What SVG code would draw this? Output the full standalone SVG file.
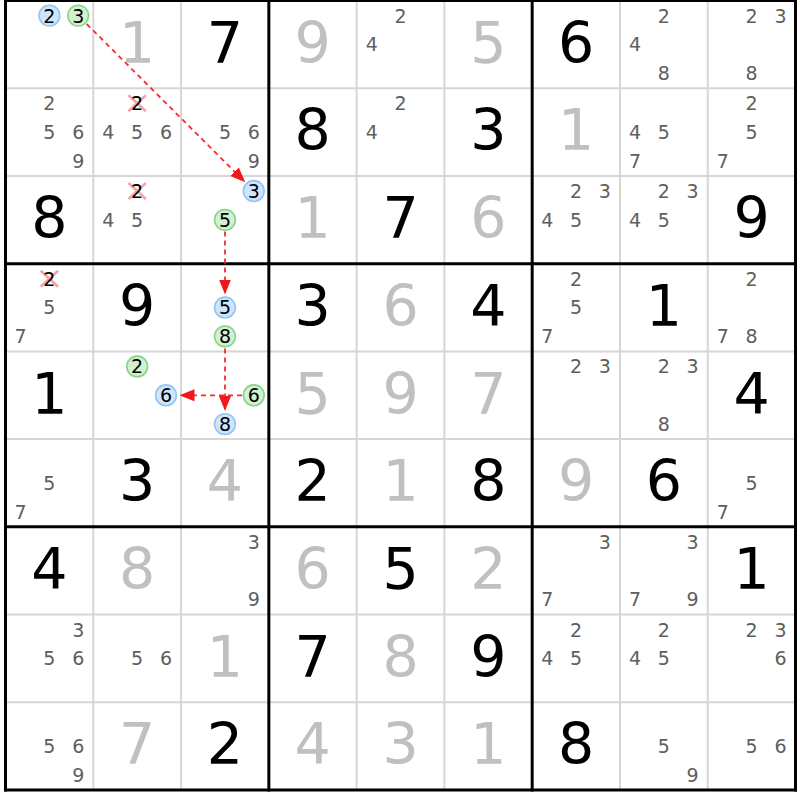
<svg xmlns="http://www.w3.org/2000/svg" width="800" height="800" viewBox="0 0 800 800">
<style>
text{font-family:"DejaVu Sans","Liberation Sans",sans-serif;text-anchor:middle}
.g{font-size:57px;fill:#000}
.s{font-size:57px;fill:#c0c0c0}
.c{font-size:19px;fill:#5e5e5e}
.k{font-size:19px;fill:#000}
.hb{fill:#cfe5fb;stroke:#92c5f2;stroke-width:1.6}
.hg{fill:#d3f0d3;stroke:#86d686;stroke-width:1.6}
.x{stroke:#f4a3ab;stroke-width:2.6}
.thin{stroke:#d6d6d6;stroke-width:2}
.thick{stroke:#000;stroke-width:3}
.arr{stroke:#f03030;stroke-width:1.8;stroke-dasharray:5,4;fill:none}
</style>
<defs>
<marker id="ah" markerUnits="userSpaceOnUse" markerWidth="15" markerHeight="12" refX="15" refY="6" orient="auto">
<path d="M0,0 L15,6 L0,12 z" fill="#f01818"/>
</marker>
</defs>
<rect x="0" y="0" width="800" height="800" fill="#fff"/>
<g id="grid">
<g class="thin">
<line x1="93.28" y1="0.5" x2="93.28" y2="790"/>
<line x1="181.06" y1="0.5" x2="181.06" y2="790"/>
<line x1="356.62" y1="0.5" x2="356.62" y2="790"/>
<line x1="444.4" y1="0.5" x2="444.4" y2="790"/>
<line x1="619.96" y1="0.5" x2="619.96" y2="790"/>
<line x1="707.74" y1="0.5" x2="707.74" y2="790"/>
<line x1="5.5" y1="88.22" x2="795.5" y2="88.22"/>
<line x1="5.5" y1="175.94" x2="795.5" y2="175.94"/>
<line x1="5.5" y1="351.38" x2="795.5" y2="351.38"/>
<line x1="5.5" y1="439.1" x2="795.5" y2="439.1"/>
<line x1="5.5" y1="614.54" x2="795.5" y2="614.54"/>
<line x1="5.5" y1="702.26" x2="795.5" y2="702.26"/>
</g>
<g class="thick">
<line x1="5.5" y1="-1" x2="5.5" y2="791.5"/>
<line x1="268.84" y1="-1" x2="268.84" y2="791.5"/>
<line x1="532.18" y1="-1" x2="532.18" y2="791.5"/>
<line x1="795.5" y1="-1" x2="795.5" y2="791.5"/>
<line x1="4" y1="0.5" x2="797" y2="0.5"/>
<line x1="4" y1="263.66" x2="797" y2="263.66"/>
<line x1="4" y1="526.82" x2="797" y2="526.82"/>
<line x1="4" y1="790" x2="797" y2="790"/>
</g>
</g>

<!-- Row 0 -->
<g id="r0c0" transform="translate(5.5,0.5)">
<circle class="hb" cx="43.9" cy="15.1" r="10.4"/><text class="k" x="43.9" y="22">2</text>
<circle class="hg" cx="72.7" cy="15.1" r="10.4"/><text class="k" x="72.7" y="22">3</text>
</g>
<g id="r0c1" transform="translate(93.28,0.5)"><text class="s" x="43.9" y="62.2">1</text></g>
<g id="r0c2" transform="translate(181.06,0.5)"><text class="g" x="43.9" y="62.2">7</text></g>
<g id="r0c3" transform="translate(268.84,0.5)"><text class="s" x="43.9" y="62.2">9</text></g>
<g id="r0c4" transform="translate(356.62,0.5)"><text class="c" x="43.9" y="22">2</text><text class="c" x="15.1" y="50.8">4</text></g>
<g id="r0c5" transform="translate(444.4,0.5)"><text class="s" x="43.9" y="62.2">5</text></g>
<g id="r0c6" transform="translate(532.18,0.5)"><text class="g" x="43.9" y="62.2">6</text></g>
<g id="r0c7" transform="translate(619.96,0.5)"><text class="c" x="43.9" y="22">2</text><text class="c" x="15.1" y="50.8">4</text><text class="c" x="43.9" y="79.6">8</text></g>
<g id="r0c8" transform="translate(707.74,0.5)"><text class="c" x="43.9" y="22">2</text><text class="c" x="72.7" y="22">3</text><text class="c" x="43.9" y="79.6">8</text></g>

<!-- Row 1 -->
<g id="r1c0" transform="translate(5.5,88.22)"><text class="c" x="43.9" y="22">2</text><text class="c" x="43.9" y="50.8">5</text><text class="c" x="72.7" y="50.8">6</text><text class="c" x="72.7" y="79.6">9</text></g>
<g id="r1c1" transform="translate(93.28,88.22)">
<line class="x" x1="35.2" y1="7.1" x2="52.6" y2="23.1"/><line class="x" x1="52.6" y1="7.1" x2="35.2" y2="23.1"/>
<text class="k" x="43.9" y="22">2</text><text class="c" x="15.1" y="50.8">4</text><text class="c" x="43.9" y="50.8">5</text><text class="c" x="72.7" y="50.8">6</text></g>
<g id="r1c2" transform="translate(181.06,88.22)"><text class="c" x="43.9" y="50.8">5</text><text class="c" x="72.7" y="50.8">6</text><text class="c" x="72.7" y="79.6">9</text></g>
<g id="r1c3" transform="translate(268.84,88.22)"><text class="g" x="43.9" y="62.2">8</text></g>
<g id="r1c4" transform="translate(356.62,88.22)"><text class="c" x="43.9" y="22">2</text><text class="c" x="15.1" y="50.8">4</text></g>
<g id="r1c5" transform="translate(444.4,88.22)"><text class="g" x="43.9" y="62.2">3</text></g>
<g id="r1c6" transform="translate(532.18,88.22)"><text class="s" x="43.9" y="62.2">1</text></g>
<g id="r1c7" transform="translate(619.96,88.22)"><text class="c" x="15.1" y="50.8">4</text><text class="c" x="43.9" y="50.8">5</text><text class="c" x="15.1" y="79.6">7</text></g>
<g id="r1c8" transform="translate(707.74,88.22)"><text class="c" x="43.9" y="22">2</text><text class="c" x="43.9" y="50.8">5</text><text class="c" x="15.1" y="79.6">7</text></g>

<!-- Row 2 -->
<g id="r2c0" transform="translate(5.5,175.94)"><text class="g" x="43.9" y="62.2">8</text></g>
<g id="r2c1" transform="translate(93.28,175.94)">
<line class="x" x1="35.2" y1="7.1" x2="52.6" y2="23.1"/><line class="x" x1="52.6" y1="7.1" x2="35.2" y2="23.1"/>
<text class="k" x="43.9" y="22">2</text><text class="c" x="15.1" y="50.8">4</text><text class="c" x="43.9" y="50.8">5</text></g>
<g id="r2c2" transform="translate(181.06,175.94)">
<circle class="hb" cx="72.7" cy="15.1" r="10.4"/><text class="k" x="72.7" y="22">3</text>
<circle class="hg" cx="43.9" cy="43.9" r="10.4"/><text class="k" x="43.9" y="50.8">5</text>
</g>
<g id="r2c3" transform="translate(268.84,175.94)"><text class="s" x="43.9" y="62.2">1</text></g>
<g id="r2c4" transform="translate(356.62,175.94)"><text class="g" x="43.9" y="62.2">7</text></g>
<g id="r2c5" transform="translate(444.4,175.94)"><text class="s" x="43.9" y="62.2">6</text></g>
<g id="r2c6" transform="translate(532.18,175.94)"><text class="c" x="43.9" y="22">2</text><text class="c" x="72.7" y="22">3</text><text class="c" x="15.1" y="50.8">4</text><text class="c" x="43.9" y="50.8">5</text></g>
<g id="r2c7" transform="translate(619.96,175.94)"><text class="c" x="43.9" y="22">2</text><text class="c" x="72.7" y="22">3</text><text class="c" x="15.1" y="50.8">4</text><text class="c" x="43.9" y="50.8">5</text></g>
<g id="r2c8" transform="translate(707.74,175.94)"><text class="g" x="43.9" y="62.2">9</text></g>

<!-- Row 3 -->
<g id="r3c0" transform="translate(5.5,263.66)">
<line class="x" x1="35.2" y1="7.1" x2="52.6" y2="23.1"/><line class="x" x1="52.6" y1="7.1" x2="35.2" y2="23.1"/>
<text class="k" x="43.9" y="22">2</text><text class="c" x="43.9" y="50.8">5</text><text class="c" x="15.1" y="79.6">7</text></g>
<g id="r3c1" transform="translate(93.28,263.66)"><text class="g" x="43.9" y="62.2">9</text></g>
<g id="r3c2" transform="translate(181.06,263.66)">
<circle class="hb" cx="43.9" cy="43.9" r="10.4"/><text class="k" x="43.9" y="50.8">5</text>
<circle class="hg" cx="43.9" cy="72.7" r="10.4"/><text class="k" x="43.9" y="79.6">8</text>
</g>
<g id="r3c3" transform="translate(268.84,263.66)"><text class="g" x="43.9" y="62.2">3</text></g>
<g id="r3c4" transform="translate(356.62,263.66)"><text class="s" x="43.9" y="62.2">6</text></g>
<g id="r3c5" transform="translate(444.4,263.66)"><text class="g" x="43.9" y="62.2">4</text></g>
<g id="r3c6" transform="translate(532.18,263.66)"><text class="c" x="43.9" y="22">2</text><text class="c" x="43.9" y="50.8">5</text><text class="c" x="15.1" y="79.6">7</text></g>
<g id="r3c7" transform="translate(619.96,263.66)"><text class="g" x="43.9" y="62.2">1</text></g>
<g id="r3c8" transform="translate(707.74,263.66)"><text class="c" x="43.9" y="22">2</text><text class="c" x="15.1" y="79.6">7</text><text class="c" x="43.9" y="79.6">8</text></g>

<!-- Row 4 -->
<g id="r4c0" transform="translate(5.5,351.38)"><text class="g" x="43.9" y="62.2">1</text></g>
<g id="r4c1" transform="translate(93.28,351.38)">
<circle class="hg" cx="43.9" cy="15.1" r="10.4"/><text class="k" x="43.9" y="22">2</text>
<circle class="hb" cx="72.7" cy="43.9" r="10.4"/><text class="k" x="72.7" y="50.8">6</text>
</g>
<g id="r4c2" transform="translate(181.06,351.38)">
<circle class="hg" cx="72.7" cy="43.9" r="10.4"/><text class="k" x="72.7" y="50.8">6</text>
<circle class="hb" cx="43.9" cy="72.7" r="10.4"/><text class="k" x="43.9" y="79.6">8</text>
</g>
<g id="r4c3" transform="translate(268.84,351.38)"><text class="s" x="43.9" y="62.2">5</text></g>
<g id="r4c4" transform="translate(356.62,351.38)"><text class="s" x="43.9" y="62.2">9</text></g>
<g id="r4c5" transform="translate(444.4,351.38)"><text class="s" x="43.9" y="62.2">7</text></g>
<g id="r4c6" transform="translate(532.18,351.38)"><text class="c" x="43.9" y="22">2</text><text class="c" x="72.7" y="22">3</text></g>
<g id="r4c7" transform="translate(619.96,351.38)"><text class="c" x="43.9" y="22">2</text><text class="c" x="72.7" y="22">3</text><text class="c" x="43.9" y="79.6">8</text></g>
<g id="r4c8" transform="translate(707.74,351.38)"><text class="g" x="43.9" y="62.2">4</text></g>

<!-- Row 5 -->
<g id="r5c0" transform="translate(5.5,439.1)"><text class="c" x="43.9" y="50.8">5</text><text class="c" x="15.1" y="79.6">7</text></g>
<g id="r5c1" transform="translate(93.28,439.1)"><text class="g" x="43.9" y="62.2">3</text></g>
<g id="r5c2" transform="translate(181.06,439.1)"><text class="s" x="43.9" y="62.2">4</text></g>
<g id="r5c3" transform="translate(268.84,439.1)"><text class="g" x="43.9" y="62.2">2</text></g>
<g id="r5c4" transform="translate(356.62,439.1)"><text class="s" x="43.9" y="62.2">1</text></g>
<g id="r5c5" transform="translate(444.4,439.1)"><text class="g" x="43.9" y="62.2">8</text></g>
<g id="r5c6" transform="translate(532.18,439.1)"><text class="s" x="43.9" y="62.2">9</text></g>
<g id="r5c7" transform="translate(619.96,439.1)"><text class="g" x="43.9" y="62.2">6</text></g>
<g id="r5c8" transform="translate(707.74,439.1)"><text class="c" x="43.9" y="50.8">5</text><text class="c" x="15.1" y="79.6">7</text></g>

<!-- Row 6 -->
<g id="r6c0" transform="translate(5.5,526.82)"><text class="g" x="43.9" y="62.2">4</text></g>
<g id="r6c1" transform="translate(93.28,526.82)"><text class="s" x="43.9" y="62.2">8</text></g>
<g id="r6c2" transform="translate(181.06,526.82)"><text class="c" x="72.7" y="22">3</text><text class="c" x="72.7" y="79.6">9</text></g>
<g id="r6c3" transform="translate(268.84,526.82)"><text class="s" x="43.9" y="62.2">6</text></g>
<g id="r6c4" transform="translate(356.62,526.82)"><text class="g" x="43.9" y="62.2">5</text></g>
<g id="r6c5" transform="translate(444.4,526.82)"><text class="s" x="43.9" y="62.2">2</text></g>
<g id="r6c6" transform="translate(532.18,526.82)"><text class="c" x="72.7" y="22">3</text><text class="c" x="15.1" y="79.6">7</text></g>
<g id="r6c7" transform="translate(619.96,526.82)"><text class="c" x="72.7" y="22">3</text><text class="c" x="15.1" y="79.6">7</text><text class="c" x="72.7" y="79.6">9</text></g>
<g id="r6c8" transform="translate(707.74,526.82)"><text class="g" x="43.9" y="62.2">1</text></g>

<!-- Row 7 -->
<g id="r7c0" transform="translate(5.5,614.54)"><text class="c" x="72.7" y="22">3</text><text class="c" x="43.9" y="50.8">5</text><text class="c" x="72.7" y="50.8">6</text></g>
<g id="r7c1" transform="translate(93.28,614.54)"><text class="c" x="43.9" y="50.8">5</text><text class="c" x="72.7" y="50.8">6</text></g>
<g id="r7c2" transform="translate(181.06,614.54)"><text class="s" x="43.9" y="62.2">1</text></g>
<g id="r7c3" transform="translate(268.84,614.54)"><text class="g" x="43.9" y="62.2">7</text></g>
<g id="r7c4" transform="translate(356.62,614.54)"><text class="s" x="43.9" y="62.2">8</text></g>
<g id="r7c5" transform="translate(444.4,614.54)"><text class="g" x="43.9" y="62.2">9</text></g>
<g id="r7c6" transform="translate(532.18,614.54)"><text class="c" x="43.9" y="22">2</text><text class="c" x="15.1" y="50.8">4</text><text class="c" x="43.9" y="50.8">5</text></g>
<g id="r7c7" transform="translate(619.96,614.54)"><text class="c" x="43.9" y="22">2</text><text class="c" x="15.1" y="50.8">4</text><text class="c" x="43.9" y="50.8">5</text></g>
<g id="r7c8" transform="translate(707.74,614.54)"><text class="c" x="43.9" y="22">2</text><text class="c" x="72.7" y="22">3</text><text class="c" x="72.7" y="50.8">6</text></g>

<!-- Row 8 -->
<g id="r8c0" transform="translate(5.5,702.26)"><text class="c" x="43.9" y="50.8">5</text><text class="c" x="72.7" y="50.8">6</text><text class="c" x="72.7" y="79.6">9</text></g>
<g id="r8c1" transform="translate(93.28,702.26)"><text class="s" x="43.9" y="62.2">7</text></g>
<g id="r8c2" transform="translate(181.06,702.26)"><text class="g" x="43.9" y="62.2">2</text></g>
<g id="r8c3" transform="translate(268.84,702.26)"><text class="s" x="43.9" y="62.2">4</text></g>
<g id="r8c4" transform="translate(356.62,702.26)"><text class="s" x="43.9" y="62.2">3</text></g>
<g id="r8c5" transform="translate(444.4,702.26)"><text class="s" x="43.9" y="62.2">1</text></g>
<g id="r8c6" transform="translate(532.18,702.26)"><text class="g" x="43.9" y="62.2">8</text></g>
<g id="r8c7" transform="translate(619.96,702.26)"><text class="c" x="43.9" y="50.8">5</text><text class="c" x="72.7" y="79.6">9</text></g>
<g id="r8c8" transform="translate(707.74,702.26)"><text class="c" x="43.9" y="50.8">5</text><text class="c" x="72.7" y="50.8">6</text></g>

<g id="connectors">
<line class="arr" x1="86.7" y1="24.0" x2="245.2" y2="182.3" marker-end="url(#ah)"/>
<line class="arr" x1="225.0" y1="231.5" x2="225.0" y2="294.5" marker-end="url(#ah)"/>
<line class="arr" x1="225.0" y1="348.5" x2="225.0" y2="411.0" marker-end="url(#ah)"/>
<line class="arr" x1="242.0" y1="395.3" x2="179.5" y2="395.3" marker-end="url(#ah)"/>
</g>
</svg>
